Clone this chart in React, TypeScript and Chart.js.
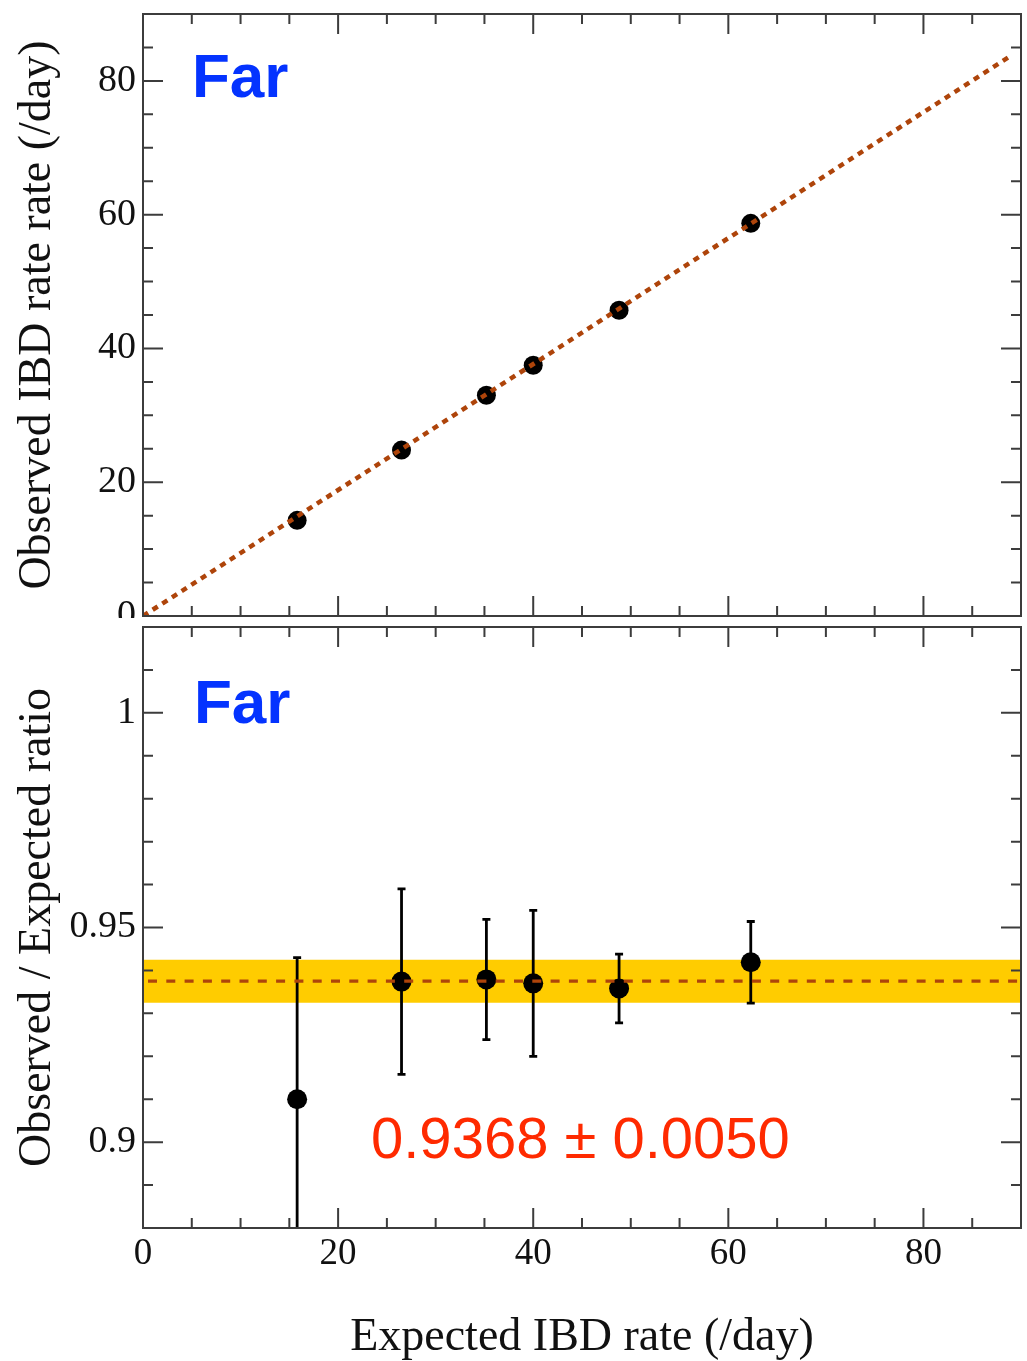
import React, { useEffect, useRef } from "react";
import { Chart, registerables } from "chart.js";
Chart.register(...registerables);

// ---- data ----
const expectedRate = [15.8, 26.5, 35.2, 40.0, 48.8, 62.3];
const observedRate = [14.3, 24.8, 33.0, 37.5, 45.7, 58.7];
const ratio = [0.91, 0.9374, 0.9379, 0.937, 0.9358, 0.9419];
const ratioErr = [0.033, 0.0216, 0.014, 0.017, 0.008, 0.0095];
const fitLineX = [0, 89];
const fitLineY = [0, 83.8];
const meanRatio = 0.9375;
const meanErr = 0.005;

const xRange = [0, 90];
const topYRange = [0, 90];
const bottomYRange = [0.88, 1.02];

const xTicks = [0, 20, 40, 60, 80];
const xMinorTicks = [5, 10, 15, 20, 25, 30, 35, 40, 45, 50, 55, 60, 65, 70, 75, 80, 85];
const topYTicks = [0, 20, 40, 60, 80];
const topYMinorTicks = [5, 10, 15, 20, 25, 30, 35, 40, 45, 50, 55, 60, 65, 70, 75, 80, 85];
const bottomYTicks = [0.9, 0.95, 1];
const bottomYMinorTicks = [0.89, 0.9, 0.91, 0.92, 0.93, 0.94, 0.95, 0.96, 0.97, 0.98, 0.99, 1, 1.01];

const panelLabel = "Far";
const fitLabel = "0.9368 ± 0.0050";
const topYTitle = "Observed IBD rate rate (/day)";
const bottomYTitle = "Observed / Expected ratio";
const xTitle = "Expected IBD rate (/day)";

const SERIF = '"Liberation Serif", "Times New Roman", Times, serif';
const SANS = '"Liberation Sans", Arial, Helvetica, sans-serif';
const FRAME = "#3c3c3c";
const LINE_BROWN = "#AE440A";

const near = (a: number, b: number) => Math.abs(a - b) < 1e-6;

function framePlugin(opts: {
  xMajor: number[];
  xMinor: number[];
  yMajor: number[];
  yMinor: number[];
  texts: (ctx: CanvasRenderingContext2D, a: any) => void;
}) {
  return {
    id: "frameTicks",
    afterDatasetsDraw(chart: any) {
      const { ctx, chartArea: a, scales } = chart;
      const xs = scales.x;
      const ys = scales.y;
      ctx.save();
      ctx.strokeStyle = FRAME;
      ctx.lineWidth = 2;
      ctx.beginPath();
      for (const v of opts.xMinor) {
        const px = xs.getPixelForValue(v);
        const len = opts.xMajor.some((m) => near(m, v)) ? 20 : 10;
        ctx.moveTo(px, a.bottom);
        ctx.lineTo(px, a.bottom - len);
        ctx.moveTo(px, a.top);
        ctx.lineTo(px, a.top + len);
      }
      for (const v of opts.yMinor) {
        const py = ys.getPixelForValue(v);
        const len = opts.yMajor.some((m) => near(m, v)) ? 20 : 10;
        ctx.moveTo(a.left, py);
        ctx.lineTo(a.left + len, py);
        ctx.moveTo(a.right, py);
        ctx.lineTo(a.right - len, py);
      }
      ctx.stroke();
      ctx.strokeRect(a.left, a.top, a.right - a.left, a.bottom - a.top);
      opts.texts(ctx, a);
      ctx.restore();
    },
  };
}

const errorBarPlugin = {
  id: "errorBars",
  afterDatasetDraw(chart: any, args: any) {
    if (args.index !== 2) return;
    const { ctx, chartArea: a, scales } = chart;
    const xs = scales.x;
    const ys = scales.y;
    ctx.save();
    ctx.beginPath();
    ctx.rect(a.left, a.top, a.right - a.left, a.bottom - a.top);
    ctx.clip();
    ctx.strokeStyle = "#000";
    ctx.lineWidth = 2.8;
    expectedRate.forEach((xv, i) => {
      const px = xs.getPixelForValue(xv);
      const hi = ys.getPixelForValue(ratio[i] + ratioErr[i]);
      const lo = ys.getPixelForValue(ratio[i] - ratioErr[i]);
      ctx.beginPath();
      ctx.moveTo(px, hi);
      ctx.lineTo(px, lo);
      ctx.moveTo(px - 4, hi);
      ctx.lineTo(px + 4, hi);
      ctx.moveTo(px - 4, lo);
      ctx.lineTo(px + 4, lo);
      ctx.stroke();
    });
    ctx.restore();
  },
};

function yAxis(range: number[], ticks: number[], title: string) {
  return {
    type: "linear",
    min: range[0],
    max: range[1],
    grid: { display: false, drawTicks: false },
    border: { display: false },
    afterBuildTicks: (s: any) => {
      s.ticks = ticks.map((v) => ({ value: v }));
    },
    afterFit: (s: any) => {
      s.width = 143;
      s.paddingTop = 0;
      s.paddingBottom = 0;
    },
    ticks: {
      autoSkip: false,
      font: { family: SERIF, size: 38 },
      color: "#111",
      padding: 7,
      callback: (v: any) => String(Math.round(Number(v) * 1000) / 1000),
    },
    title: {
      display: true,
      text: title,
      font: { family: SERIF, size: 46, lineHeight: 1 },
      color: "#111",
      padding: { top: 15, bottom: 0 },
    },
  };
}

function topConfig(): any {
  return {
    type: "line",
    data: {
      datasets: [
        {
          label: "fit",
          data: fitLineX.map((x, i) => ({ x, y: fitLineY[i] })),
          borderColor: LINE_BROWN,
          borderWidth: 4.5,
          borderDash: [6, 5.5],
          borderCapStyle: "butt",
          pointRadius: 0,
          fill: false,
        },
        {
          label: "data",
          data: expectedRate.map((x, i) => ({ x, y: observedRate[i] })),
          showLine: false,
          pointRadius: 9.5,
          pointBackgroundColor: "#000",
          pointBorderWidth: 0,
          borderColor: "#000",
        },
      ],
    },
    options: {
      animation: false,
      responsive: false,
      events: [],
      layout: { autoPadding: false, padding: { left: 0, right: 6, top: 14, bottom: 0 } },
      plugins: { legend: { display: false }, tooltip: { enabled: false } },
      scales: {
        x: {
          type: "linear",
          min: xRange[0],
          max: xRange[1],
          grid: { display: false, drawTicks: false },
          border: { display: false },
          ticks: { display: false },
          afterFit: (s: any) => {
            s.height = 2;
            s.paddingLeft = 0;
            s.paddingRight = 0;
          },
        },
        y: yAxis(topYRange, topYTicks, topYTitle),
      },
    },
    plugins: [
      framePlugin({
        xMajor: xTicks,
        xMinor: xMinorTicks,
        yMajor: topYTicks,
        yMinor: topYMinorTicks,
        texts: (ctx, a) => {
          ctx.fillStyle = "#0433FF";
          ctx.font = `bold 62px ${SANS}`;
          ctx.textBaseline = "alphabetic";
          ctx.textAlign = "left";
          ctx.fillText(panelLabel, a.left + 49, a.top + 83);
        },
      }),
    ],
  };
}

function bottomConfig(): any {
  return {
    type: "line",
    data: {
      datasets: [
        {
          label: "mean",
          data: xRange.map((x) => ({ x, y: meanRatio })),
          borderColor: LINE_BROWN,
          borderWidth: 3.2,
          borderDash: [9, 9.3],
          borderDashOffset: 13.3,
          borderCapStyle: "butt",
          pointRadius: 0,
          fill: false,
        },
        {
          label: "ratio",
          data: expectedRate.map((x, i) => ({ x, y: ratio[i] })),
          showLine: false,
          pointRadius: 10,
          pointBackgroundColor: "#000",
          pointBorderWidth: 0,
          borderColor: "#000",
        },
        {
          label: "band",
          data: xRange.map((x) => ({ x, y: meanRatio + meanErr })),
          borderWidth: 0,
          borderColor: "rgba(0,0,0,0)",
          backgroundColor: "#FFCC00",
          pointRadius: 0,
          fill: { value: meanRatio - meanErr },
        },
      ],
    },
    options: {
      animation: false,
      responsive: false,
      events: [],
      layout: { autoPadding: false, padding: { left: 0, right: 6, top: 9, bottom: 0 } },
      plugins: { legend: { display: false }, tooltip: { enabled: false } },
      scales: {
        x: {
          type: "linear",
          min: xRange[0],
          max: xRange[1],
          grid: { display: false, drawTicks: false },
          border: { display: false },
          afterBuildTicks: (s: any) => {
            s.ticks = xTicks.map((v) => ({ value: v }));
          },
          afterFit: (s: any) => {
            s.height = 133;
            s.paddingLeft = 0;
            s.paddingRight = 0;
          },
          ticks: {
            autoSkip: false,
            maxRotation: 0,
            font: { family: SERIF, size: 37 },
            color: "#111",
            padding: 4,
            callback: (v: any) => String(v),
          },
          title: {
            display: true,
            text: xTitle,
            font: { family: SERIF, size: 46, lineHeight: 1 },
            color: "#111",
            padding: { top: 0, bottom: 0 },
          },
        },
        y: yAxis(bottomYRange, bottomYTicks, bottomYTitle),
      },
    },
    plugins: [
      errorBarPlugin,
      framePlugin({
        xMajor: xTicks,
        xMinor: xMinorTicks,
        yMajor: bottomYTicks,
        yMinor: bottomYMinorTicks,
        texts: (ctx, a) => {
          ctx.textBaseline = "alphabetic";
          ctx.textAlign = "left";
          ctx.fillStyle = "#0433FF";
          ctx.font = `bold 62px ${SANS}`;
          ctx.fillText(panelLabel, a.left + 51, a.top + 96);
          ctx.fillStyle = "#FF2A00";
          ctx.font = `58px ${SANS}`;
          ctx.fillText(fitLabel, a.left + 228, a.top + 531);
        },
      }),
    ],
  };
}

export default function App() {
  const topRef = useRef<HTMLCanvasElement>(null);
  const botRef = useRef<HTMLCanvasElement>(null);
  useEffect(() => {
    const c1 = new Chart(topRef.current as HTMLCanvasElement, topConfig());
    const c2 = new Chart(botRef.current as HTMLCanvasElement, bottomConfig());
    return () => {
      c1.destroy();
      c2.destroy();
    };
  }, []);
  return (
    <div style={{ position: "absolute", left: 0, top: 0, width: 1027, height: 1361, background: "#fff", overflow: "hidden" }}>
      <canvas ref={topRef} width={1027} height={618} style={{ position: "absolute", left: 0, top: 0, width: 1027, height: 618 }} />
      <canvas ref={botRef} width={1027} height={743} style={{ position: "absolute", left: 0, top: 618, width: 1027, height: 743 }} />
    </div>
  );
}
